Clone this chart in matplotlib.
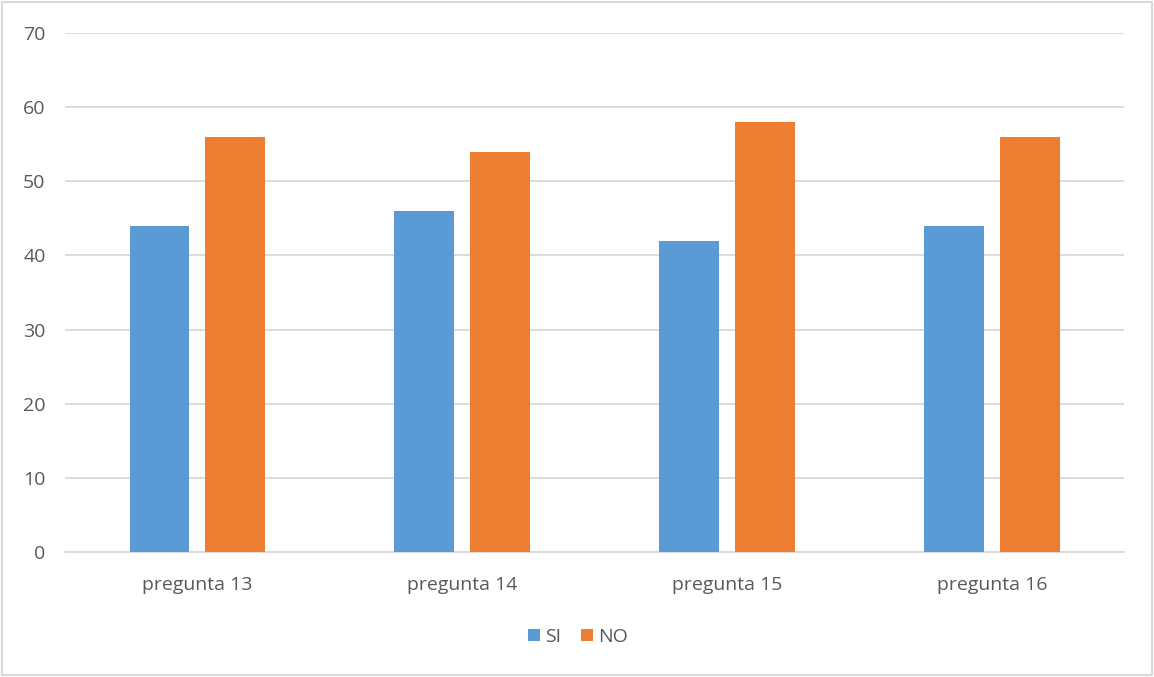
import numpy as np
import matplotlib.pyplot as plt
from matplotlib.patches import Rectangle

categorias = ['pregunta 13', 'pregunta 14', 'pregunta 15', 'pregunta 16']
si = [44, 46, 42, 44]
no = [56, 54, 58, 56]

plt.rcParams['font.family'] = ['Open Sans', 'DejaVu Sans']
gris = '#595959'

fig = plt.figure(figsize=(11.54, 6.77), dpi=100)
ax = fig.add_axes([0.0563, 0.1846, 0.918, 0.7666])

x = np.arange(len(categorias))
ancho = 0.226
ax.bar(x - 0.143, si, ancho, color='#5B9BD5', label='SI', zorder=3)
ax.bar(x + 0.143, no, ancho, color='#ED7D31', label='NO', zorder=3)

ax.set_xlim(-0.5, len(categorias) - 0.5)
ax.set_ylim(0, 70)
ax.set_yticks(range(0, 71, 10))
ax.set_xticks(x)
ax.set_xticklabels(categorias)
ax.grid(axis='y', color='#D9D9D9', linewidth=1.3, zorder=0)
for s in ['top', 'right', 'left']:
    ax.spines[s].set_visible(False)
ax.spines['bottom'].set_color('#D9D9D9')
ax.spines['bottom'].set_linewidth(1.3)
ax.tick_params(length=0, labelsize=14, colors=gris)
ax.tick_params(axis='x', pad=17)
ax.tick_params(axis='y', pad=14)

fig.legend(loc='center', bbox_to_anchor=(0.501, 0.059), ncol=2, frameon=False,
           fontsize=14, labelcolor=gris, handlelength=0.6, handleheight=0.6,
           handletextpad=0.3, columnspacing=1.0)

fig.patches.append(Rectangle((0.002, 0.003), 0.996, 0.994, transform=fig.transFigure,
                             fill=False, edgecolor='#D9D9D9', linewidth=1.5))

fig.savefig('out.png', dpi=100)
